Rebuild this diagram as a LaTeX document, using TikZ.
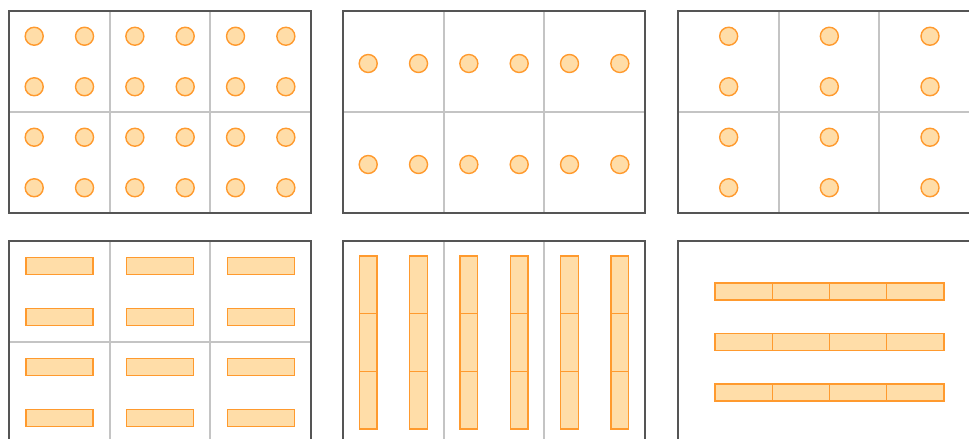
\documentclass[tikz,border=0pt]{standalone}
\usetikzlibrary{calc}
\definecolor{framegray}{HTML}{555555}
\definecolor{gridgray}{HTML}{C4C4C4}
\definecolor{tileline}{HTML}{FF9A2E}
\definecolor{tilefill}{HTML}{FFDDA8}

\begin{document}
\begin{tikzpicture}[x=0.025cm,y=-0.025cm,
  frame/.style={draw=framegray,line width=1.1pt},
  gridline/.style={draw=gridgray,line width=1.2pt},
  tile/.style={draw=tileline,fill=tilefill,line width=1pt}]
  \useasboundingbox (0,0) rectangle (969,439);
  \clip (0,0) rectangle (969,439);

  \begin{scope}[shift={(9,11)}]
    \draw[gridline] (100.67,0) -- (100.67,202) (201.33,0) -- (201.33,202) (0,101) -- (302,101);
    \draw[frame] (0,0) rectangle (302,202);
    \foreach \i in {0,...,5} \foreach \j in {0,...,3}
      \filldraw[tile] (25.2+50.33*\i,25.25+50.5*\j) circle (0.225cm);
  \end{scope}

  \begin{scope}[shift={(343,11)}]
    \draw[gridline] (100.67,0) -- (100.67,202) (201.33,0) -- (201.33,202) (0,101) -- (302,101);
    \draw[frame] (0,0) rectangle (302,202);
    \foreach \i in {0,...,5} \foreach \j in {0,1}
      \filldraw[tile] (25.2+50.33*\i,52.5+101*\j) circle (0.225cm);
  \end{scope}

  \begin{scope}[shift={(678,11)}]
    \draw[gridline] (100.67,0) -- (100.67,202) (201.33,0) -- (201.33,202) (0,101) -- (302,101);
    \draw[frame] (0,0) rectangle (302,202);
    \foreach \i in {0,1,2} \foreach \j in {0,...,3}
      \filldraw[tile] (50.67+100.67*\i,25.25+50.5*\j) circle (0.225cm);
  \end{scope}

  \begin{scope}[shift={(9,241)}]
    \draw[gridline] (100.67,0) -- (100.67,202) (201.33,0) -- (201.33,202) (0,101) -- (302,101);
    \draw[frame] (0,0) rectangle (302,202);
    \foreach \i in {0,1,2} \foreach \j in {0,...,3}
      \filldraw[tile] (17+100.67*\i,16.75+50.5*\j) rectangle +(67,17);
  \end{scope}

  \begin{scope}[shift={(343,241)}]
    \draw[gridline] (100.67,0) -- (100.67,202) (201.33,0) -- (201.33,202);
    \draw[frame] (0,0) rectangle (302,202);
    \foreach \i in {0,...,5} \foreach \k in {0,1,2}
      \filldraw[tile] (16.4+50.33*\i,15+57.67*\k) rectangle +(17.6,57.67);
  \end{scope}

  \begin{scope}[shift={(678,241)}]
    \draw[frame] (0,0) rectangle (302,202);
    \foreach \j in {1,2,3} \foreach \k in {0,...,3}
      \filldraw[tile] (37+57.25*\k,50.5*\j-8.5) rectangle +(57.25,17);
  \end{scope}
\end{tikzpicture}
\end{document}
